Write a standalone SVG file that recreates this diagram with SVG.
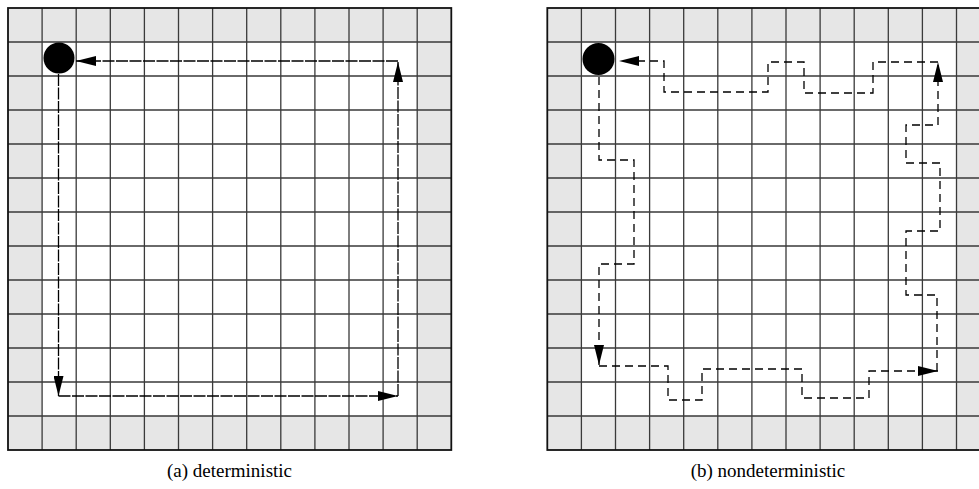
<svg xmlns="http://www.w3.org/2000/svg" width="979" height="489" viewBox="0 0 979 489">
<style>
.border{fill:#e6e6e6;}
.inner{fill:#ffffff;}
.gl{fill:none;stroke:#3a3a3a;stroke-width:1.3;}
.frame{fill:none;stroke:#111;stroke-width:1.8;}
.agent{fill:#000;}
.pa{fill:none;stroke:#000;stroke-width:1.3;stroke-dasharray:12 1.5;}
.pb{fill:none;stroke:#000;stroke-width:1.3;stroke-dasharray:8 5;}
.lbl{font-size:19px;fill:#000;text-anchor:middle;}
</style>
<defs>
<marker id="ah" viewBox="0 0 20 10" refX="20" refY="5" markerWidth="20" markerHeight="10" markerUnits="userSpaceOnUse" orient="auto">
<path d="M0,0 L20,5 L0,10 z" fill="#000"/>
</marker>
</defs>
<g id="grid-a">
<rect class="border" x="8" y="8" width="443.3" height="442"/>
<rect class="inner" x="42.1" y="42" width="375.1" height="374"/>
<path class="gl" d="M42.1,8V450M76.2,8V450M110.3,8V450M144.4,8V450M178.5,8V450M212.6,8V450M246.7,8V450M280.8,8V450M314.9,8V450M349,8V450M383.1,8V450M417.2,8V450M8,42H451.3M8,76H451.3M8,110H451.3M8,144H451.3M8,178H451.3M8,212H451.3M8,246H451.3M8,280H451.3M8,314H451.3M8,348H451.3M8,382H451.3M8,416H451.3"/>
<rect class="frame" x="8" y="8" width="443.3" height="442"/>
</g>
<g id="grid-b">
<rect class="border" x="547.3" y="8" width="443.3" height="442"/>
<rect class="inner" x="581.4" y="42" width="375.1" height="374"/>
<path class="gl" d="M581.4,8V450M615.5,8V450M649.6,8V450M683.7,8V450M717.8,8V450M751.9,8V450M786,8V450M820.1,8V450M854.2,8V450M888.3,8V450M922.4,8V450M956.5,8V450M547.3,42H990M547.3,76H990M547.3,110H990M547.3,144H990M547.3,178H990M547.3,212H990M547.3,246H990M547.3,280H990M547.3,314H990M547.3,348H990M547.3,382H990M547.3,416H990"/>
<rect class="frame" x="547.3" y="8" width="443.3" height="442"/>
</g>
<g id="agent-a"><circle class="agent" cx="59" cy="58" r="15.5"/></g>
<g id="agent-b"><circle class="agent" cx="598.5" cy="59" r="16"/></g>
<g id="connectors">
<path class="pa" d="M58.5,74V396" marker-end="url(#ah)"/>
<path class="pa" d="M58.5,396H398" marker-end="url(#ah)"/>
<path class="pa" d="M398,396V62" marker-end="url(#ah)"/>
<path class="pa" d="M398,61H76" marker-end="url(#ah)"/>
<path class="pb" d="M599,77V160H634V264H599V365" marker-end="url(#ah)"/>
<path class="pb" d="M599,366H668V400H702V369H802V398H869V371H938" marker-end="url(#ah)"/>
<path class="pb" d="M937,371V295H906V231H940V163H906V125H938V62" marker-end="url(#ah)"/>
<path class="pb" d="M938,62H873V93H804V62H768V92H664V61H619" marker-end="url(#ah)"/>
</g>
<g id="labels" font-family="'Liberation Serif', 'Times New Roman', serif">
<text class="lbl" x="229.5" y="477">(a) deterministic</text>
<text class="lbl" x="768" y="477">(b) nondeterministic</text>
</g>
</svg>
